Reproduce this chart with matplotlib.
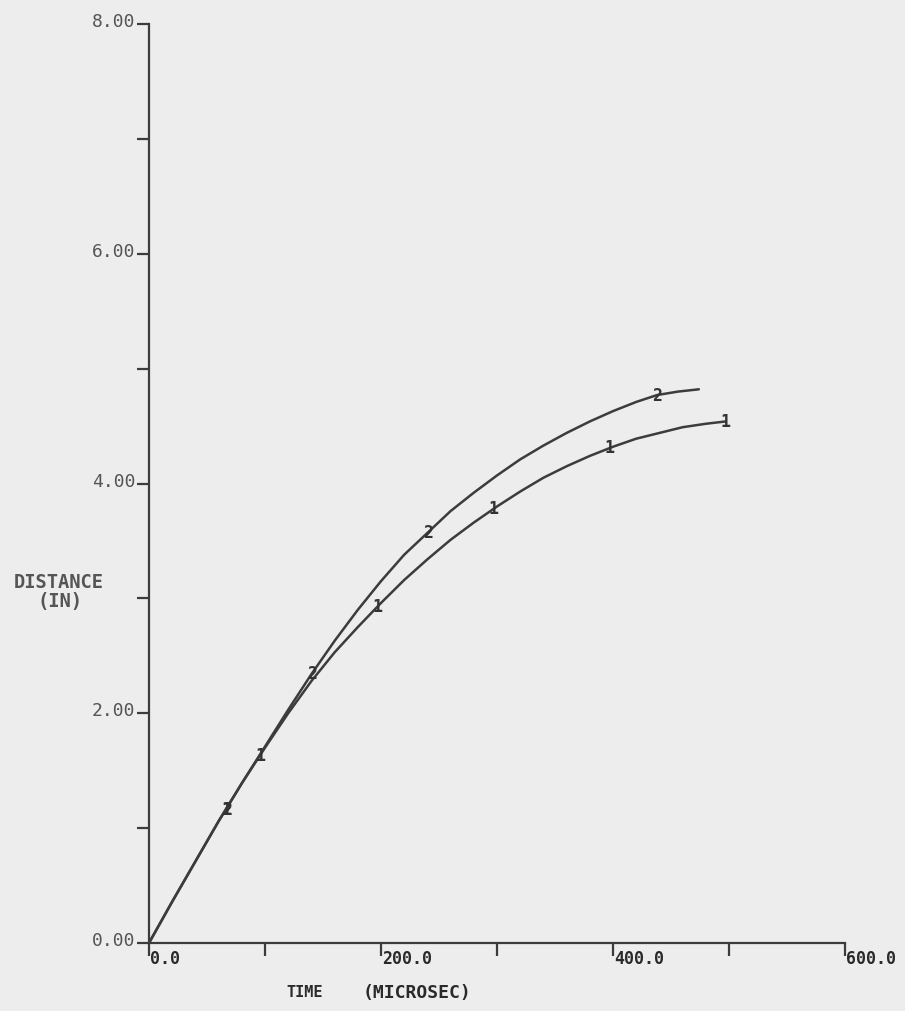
import matplotlib
matplotlib.use("Agg")
import matplotlib.pyplot as plt

# Shock front distance vs time, two runs
time_1 = [0, 20, 40, 60, 80, 100, 120, 140, 160, 180, 200, 220, 240, 260, 280, 300,
          320, 340, 360, 380, 400, 420, 440, 460, 480, 497]
dist_1 = [0, 0.36, 0.71, 1.06, 1.39, 1.70, 2.00, 2.28, 2.53, 2.75, 2.96, 3.16, 3.34, 3.51,
          3.66, 3.80, 3.93, 4.05, 4.15, 4.24, 4.32, 4.39, 4.44, 4.49, 4.52, 4.54]
mark_t_1 = [67, 96, 197, 297, 397, 497]
mark_d_1 = [1.17, 1.64, 2.93, 3.79, 4.32, 4.54]

time_2 = [0, 20, 40, 60, 80, 100, 120, 140, 160, 180, 200, 220, 240, 260, 280, 300,
          320, 340, 360, 380, 400, 420, 438, 456, 474]
dist_2 = [0, 0.36, 0.71, 1.06, 1.39, 1.71, 2.03, 2.34, 2.63, 2.90, 3.15, 3.38, 3.57, 3.76,
          3.92, 4.07, 4.21, 4.33, 4.44, 4.54, 4.63, 4.71, 4.77, 4.80, 4.82]
mark_t_2 = [67, 141, 241, 438]
mark_d_2 = [1.17, 2.35, 3.58, 4.77]

x_major = [0, 200, 400, 600]
x_minor = [100, 300, 500]
x_labels = ["0.0", "200.0", "400.0", "600.0"]
y_major = [0, 2, 4, 6, 8]
y_minor = [1, 3, 5, 7]
y_labels = ["0.00", "2.00", "4.00", "6.00", "8.00"]

bg = "#ededed"
ink = "#3c3c3c"

fig = plt.figure(figsize=(9.05, 10.12), dpi=100, facecolor=bg)
ax = fig.add_axes([149 / 905, 68 / 1012, 696 / 905, 919 / 1012], facecolor=bg)
ax.set_xlim(0, 600)
ax.set_ylim(0, 8)

for s in ("top", "right"):
    ax.spines[s].set_visible(False)
for s in ("left", "bottom"):
    ax.spines[s].set_color(ink)
    ax.spines[s].set_linewidth(1.6)

ax.set_xticks(x_major)
ax.set_xticks(x_minor, minor=True)
ax.set_yticks(y_major)
ax.set_yticks(y_minor, minor=True)
ax.set_xticklabels([])
ax.set_yticklabels([])
ax.tick_params(axis="both", which="both", direction="out", length=9, width=1.6, color=ink)

mono = "DejaVu Sans Mono"
for xv, lab in zip(x_major, x_labels):
    ax.annotate(lab, xy=(xv, 0), xycoords="data", xytext=(1, -4), textcoords="offset points",
                ha="left", va="top", fontsize=12, fontweight="bold", family=mono, color="#2a2a2a")
for yv, lab in zip(y_major, y_labels):
    ax.annotate(lab, xy=(0, yv), xycoords="data", xytext=(-10, 2), textcoords="offset points",
                ha="right", va="center", fontsize=13, family=mono, color="#555555")

fig.text(59 / 905, 1 - 583 / 1012, "DISTANCE", ha="center", va="center", fontsize=13.5,
         fontweight="bold", family=mono, color="#555555")
fig.text(60 / 905, 1 - 602 / 1012, "(IN)", ha="center", va="center", fontsize=13.5,
         fontweight="bold", family=mono, color="#555555")
fig.text(305 / 905, 1 - 993 / 1012, "TIME", ha="center", va="center", fontsize=11,
         fontweight="bold", family=mono, color="#2a2a2a")
fig.text(417 / 905, 1 - 993 / 1012, "(MICROSEC)", ha="center", va="center", fontsize=13,
         fontweight="bold", family=mono, color="#2a2a2a")

ax.plot(time_1, dist_1, color=ink, lw=1.8, solid_capstyle="round", clip_on=False)
ax.plot(time_2, dist_2, color=ink, lw=1.8, solid_capstyle="round", clip_on=False)

for t, d in zip(mark_t_1, mark_d_1):
    ax.text(t, d, "1", ha="center", va="center", fontsize=12,
            fontweight="bold", family=mono, color="#333333")
for t, d in zip(mark_t_2, mark_d_2):
    ax.text(t, d, "2", ha="center", va="center", fontsize=12,
            fontweight="bold", family=mono, color="#333333")

fig.savefig("out.png", dpi=100, facecolor=bg)
